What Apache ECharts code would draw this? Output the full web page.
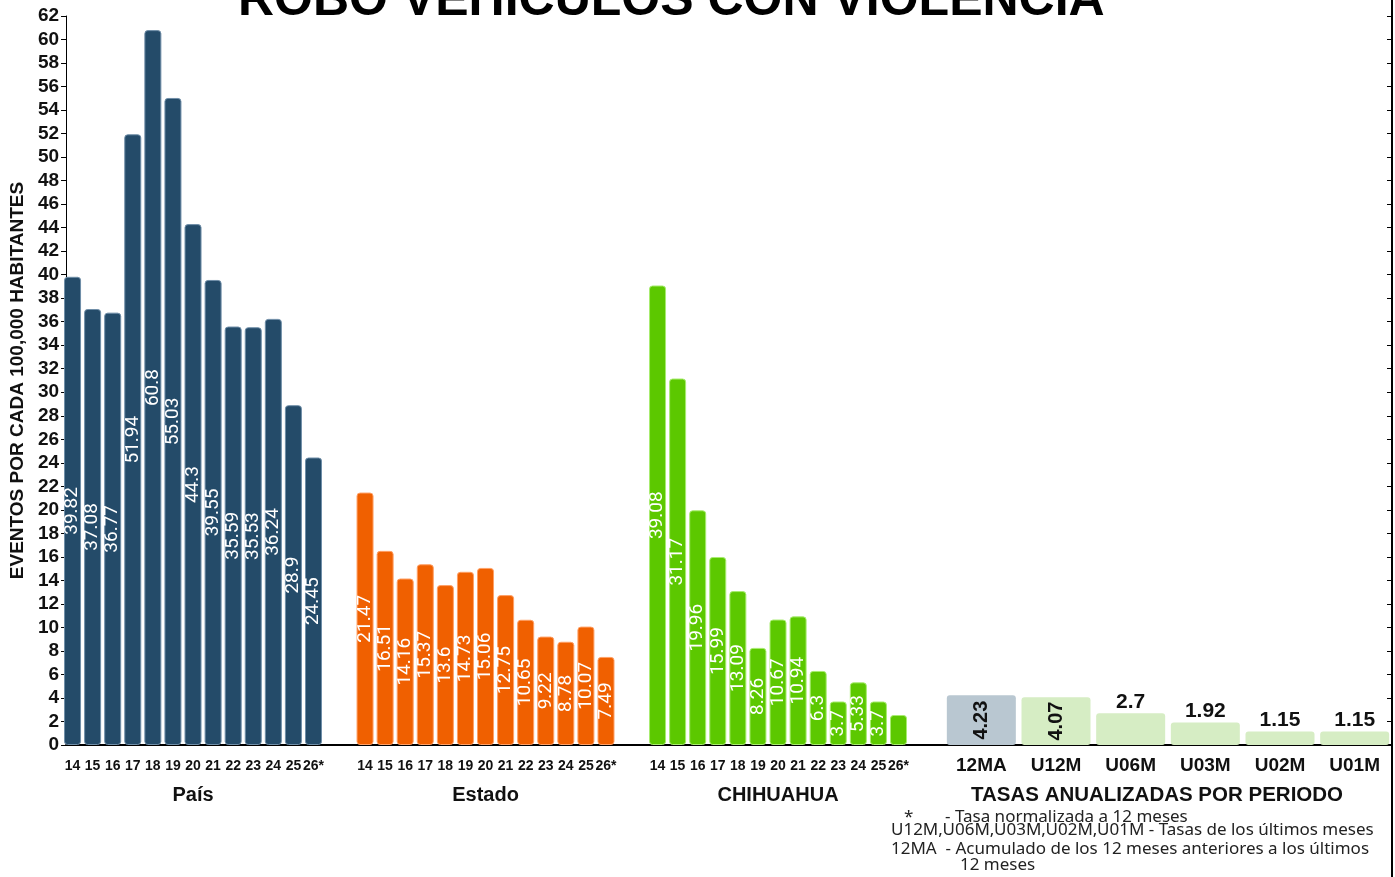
<!DOCTYPE html>
<html>
<head>
<meta charset="utf-8">
<script src="https://cdn.jsdelivr.net/npm/echarts@6/dist/echarts.min.js"></script>
<style>
  html, body { margin: 0; padding: 0; background: #fff; }
  #chart { width: 1395px; height: 877px; }
</style>
</head>
<body>
<div id="chart"></div>
<script>
// años
const years = ['14', '15', '16', '17', '18', '19', '20', '21', '22', '23', '24', '25', '26*']
// tasas por cada 100,000 habitantes
const pais = [39.82, 37.08, 36.77, 51.94, 60.8, 55.03, 44.3, 39.55, 35.59, 35.53, 36.24, 28.9, 24.45]
const estado = [21.47, 16.51, 14.16, 15.37, 13.6, 14.73, 15.06, 12.75, 10.65, 9.22, 8.78, 10.07, 7.49]
const chihuahua = [39.08, 31.17, 19.96, 15.99, 13.09, 8.26, 10.67, 10.94, 6.3, 3.7, 5.33, 3.7, 2.55]
// tasas anualizadas
const periodos = ['12MA', 'U12M', 'U06M', 'U03M', 'U02M', 'U01M']
const tasas = [4.23, 4.07, 2.7, 1.92, 1.15, 1.15]
const yTicks = { min: 0, max: 62, interval: 2 }

const TOP = 16
const BOTTOM = 132
const SLOT = 20.08

const chart = echarts.init(document.getElementById('chart'))

const groups = [
  { name: 'País', data: pais, color: '#244b69', border: '#6f8ea8', left: 62.5 },
  { name: 'Estado', data: estado, color: '#f06000', border: '#ffa066', left: 355 },
  { name: 'CHIHUAHUA', data: chihuahua, color: '#5cc800', border: '#a8ec70', left: 647.5 }
]

const grids = [{ left: 60, right: 3, top: TOP, bottom: BOTTOM }]
const xAxes = [{
  gridIndex: 0, type: 'value', min: 0, max: 1,
  axisLine: { show: true, onZero: false, lineStyle: { color: '#000', width: 2 } },
  axisTick: { show: false }, axisLabel: { show: false }, splitLine: { show: false }
}]
const yAxes = [
  {
    gridIndex: 0, type: 'value', position: 'left', ...yTicks,
    name: 'EVENTOS POR CADA 100,000 HABITANTES',
    nameLocation: 'middle', nameGap: 36, nameRotate: 90,
    nameTextStyle: { fontFamily: 'Liberation Sans', fontWeight: 'bold', fontSize: 19, color: '#111' },
    axisLine: { show: true, lineStyle: { color: '#000', width: 1 } },
    axisTick: { show: true, length: 5, lineStyle: { color: '#000' } },
    axisLabel: { margin: 7, fontFamily: 'Liberation Sans', fontWeight: 'bold', fontSize: 19, color: '#111' },
    splitLine: { show: false }
  },
  {
    gridIndex: 0, type: 'value', position: 'right', ...yTicks,
    axisLine: { show: true, lineStyle: { color: '#000', width: 2 } },
    axisTick: { show: true, inside: true, length: 5, lineStyle: { color: '#000' } },
    axisLabel: { show: false },
    splitLine: { show: false }
  }
]
const series = []

groups.forEach((g, i) => {
  const gi = i + 1
  grids.push({ left: g.left, width: SLOT * 13, top: TOP, bottom: BOTTOM })
  xAxes.push({
    gridIndex: gi, type: 'category', data: years,
    name: g.name, nameLocation: 'middle', nameGap: 40,
    nameTextStyle: { fontFamily: 'Liberation Sans', fontWeight: 'bold', fontSize: 20, color: '#111' },
    axisLine: { show: false }, axisTick: { show: false },
    axisLabel: { margin: 14, interval: 0, fontFamily: 'Liberation Sans', fontWeight: 'bold', fontSize: 14, color: '#111' }
  })
  yAxes.push({ gridIndex: gi, type: 'value', ...yTicks, show: false })
  series.push({
    type: 'bar', xAxisIndex: gi, yAxisIndex: gi + 1, barWidth: 17,
    itemStyle: { color: g.color, borderColor: g.border, borderWidth: 1, borderRadius: 3 },
    label: {
      show: true, position: 'inside', rotate: 90,
      fontFamily: 'Roboto', fontSize: 19, color: '#fff'
    },
    data: g.data.map(v => ({ value: v, label: { show: v >= 3 } }))
  })
})

// tasas anualizadas por periodo
const gT = grids.length
grids.push({ left: 944, right: 3, top: TOP, bottom: BOTTOM })
xAxes.push({
  gridIndex: gT, type: 'category', data: periodos,
  name: 'TASAS ANUALIZADAS POR PERIODO', nameLocation: 'middle', nameGap: 40,
  nameTextStyle: {
    fontFamily: 'Liberation Sans', fontWeight: 'bold', fontSize: 20.5, color: '#111',
    padding: [0, 22, 0, 0]
  },
  axisLine: { show: false }, axisTick: { show: false },
  axisLabel: { margin: 11, interval: 0, fontFamily: 'Liberation Sans', fontWeight: 'bold', fontSize: 19, color: '#111' }
})
yAxes.push({ gridIndex: gT, type: 'value', ...yTicks, show: false })
series.push({
  type: 'bar', xAxisIndex: gT, yAxisIndex: gT + 1, barWidth: 69,
  itemStyle: { borderRadius: 3 },
  label: { show: true, fontFamily: 'Liberation Sans', fontWeight: 'bold', fontSize: 21, color: '#111' },
  data: tasas.map((v, i) => ({
    value: v,
    itemStyle: { color: i === 0 ? '#b9c7d1' : '#d6edc4' },
    label: v > 4
      ? { position: 'inside', rotate: 90, fontSize: 20 }
      : { position: 'top', distance: 1 }
  }))
})

const noteStyle = { fontFamily: 'Noto Sans', fontSize: 17, fill: '#222' }

chart.setOption({
  backgroundColor: '#fff',
  animation: false,
  grid: grids,
  xAxis: xAxes,
  yAxis: yAxes,
  series: series,
  graphic: [
    {
      type: 'text', left: 238, top: -24,
      style: {
        text: 'ROBO VEHICULOS CON VIOLENCIA',
        fontFamily: 'Liberation Sans', fontWeight: 'bold', fontSize: 50, fill: '#000'
      }
    },
    { type: 'line', shape: { x1: 1392, y1: 0, x2: 1392, y2: 877 }, style: { stroke: '#000', lineWidth: 2 } },
    { type: 'text', x: 904, y: 809, style: { text: '*', ...noteStyle } },
    { type: 'text', x: 945, y: 809, style: { text: '- Tasa normalizada a 12 meses', ...noteStyle } },
    { type: 'text', x: 891, y: 822, style: { text: 'U12M,U06M,U03M,U02M,U01M - Tasas de los últimos meses', ...noteStyle } },
    { type: 'text', x: 891, y: 841, style: { text: '12MA  - Acumulado de los 12 meses anteriores a los últimos', ...noteStyle } },
    { type: 'text', x: 960, y: 857, style: { text: '12 meses', ...noteStyle } }
  ]
})
</script>
</body>
</html>
